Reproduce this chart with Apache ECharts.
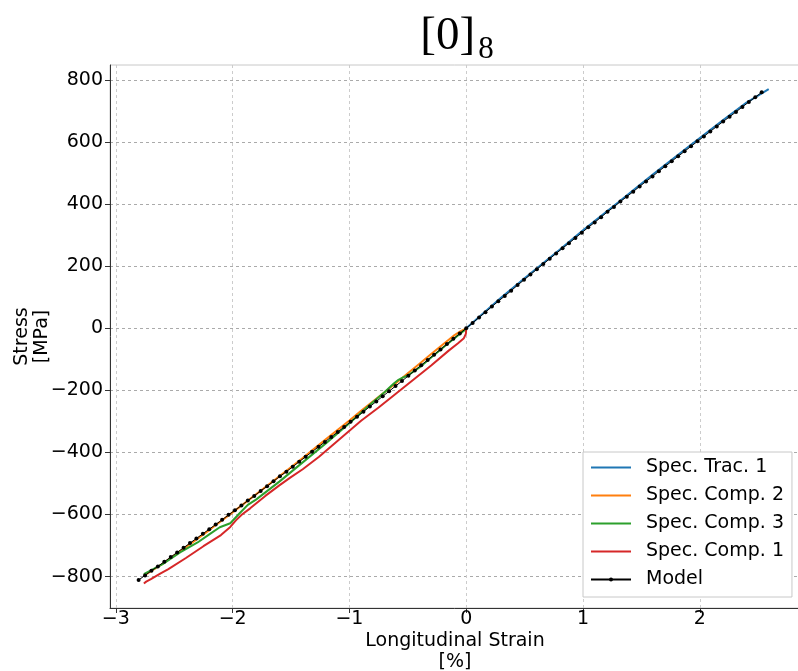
<!DOCTYPE html>
<html><head><meta charset="utf-8">
<script src="https://cdn.jsdelivr.net/npm/echarts@6/dist/echarts.min.js"></script>
<style>html,body{margin:0;padding:0;background:#fff}#c{width:798px;height:671px}</style>
</head><body><div id="c"></div>
<script>
const xTicks = [-3, -2, -1, 0, 1, 2];
const yTicks = [-800, -600, -400, -200, 0, 200, 400, 600, 800];
const seriesNames = ['Spec. Trac. 1', 'Spec. Comp. 2', 'Spec. Comp. 3', 'Spec. Comp. 1', 'Model'];
const seriesColors = ['#1f77b4', '#ff7f0e', '#2ca02c', '#d62728', '#000000'];

const tracStrain = [0, 0.1, 0.3, 0.5, 0.8, 1.0, 1.3, 1.6, 1.9, 2.2, 2.4, 2.59];
const tracStress = [0, 33, 99, 161, 253, 316, 405, 496, 584, 671, 727, 770];

const comp2Strain = [0, -0.05, -0.1, -0.2, -0.3, -0.4, -0.5, -0.6, -0.7, -0.8, -0.9, -1.0, -1.2, -1.4, -1.6, -1.8, -2.0, -2.2, -2.4, -2.6, -2.76];
const comp2Stress = [0, -10, -22, -52, -83, -114, -145, -176, -206, -236, -266, -297, -357, -418, -477, -535, -593, -650, -705, -759, -797];

const comp3Strain = [0, -0.1, -0.2, -0.3, -0.4, -0.5, -0.54, -0.58, -0.62, -0.7, -0.8, -1.0, -1.2, -1.4, -1.6, -1.8, -1.87, -1.94, -2.02, -2.11, -2.2, -2.3, -2.45, -2.6, -2.76];
const comp3Stress = [-2, -32, -63, -94, -126, -152, -158, -166, -178, -206, -238, -306, -370, -432, -494, -552, -569, -596, -628, -641, -664, -690, -722, -760, -792];

const comp1Strain = [0, -0.003, -0.02, -0.07, -0.15, -0.3, -0.45, -0.6, -0.75, -0.9, -1.0, -1.1, -1.26, -1.4, -1.51, -1.6, -1.72, -1.85, -1.92, -1.97, -2.02, -2.1, -2.25, -2.4, -2.55, -2.62, -2.7, -2.74, -2.76];
const comp1Stress = [-3, -18, -32, -48, -72, -120, -165, -210, -255, -298, -330, -362, -414, -454, -482, -506, -540, -580, -600, -618, -640, -666, -702, -740, -776, -790, -808, -816, -822];

const modelStrain = [-2.805,-2.75,-2.695,-2.64,-2.585,-2.53,-2.475,-2.42,-2.365,-2.31,-2.255,-2.2,-2.145,-2.09,-2.035,-1.98,-1.925,-1.87,-1.815,-1.76,-1.705,-1.65,-1.595,-1.54,-1.485,-1.43,-1.375,-1.32,-1.265,-1.21,-1.155,-1.1,-1.045,-0.99,-0.935,-0.88,-0.825,-0.77,-0.715,-0.66,-0.605,-0.55,-0.495,-0.44,-0.385,-0.33,-0.275,-0.22,-0.165,-0.11,-0.055,0,0.055,0.11,0.165,0.22,0.275,0.33,0.385,0.44,0.495,0.55,0.605,0.66,0.715,0.77,0.825,0.88,0.935,0.99,1.045,1.1,1.155,1.21,1.265,1.32,1.375,1.43,1.485,1.54,1.595,1.65,1.705,1.76,1.815,1.87,1.925,1.98,2.035,2.09,2.145,2.2,2.255,2.31,2.365,2.42,2.475,2.53];
const modelStress = [-811,-796,-781,-767,-752,-737,-722,-707,-692,-677,-662,-647,-632,-617,-601,-586,-571,-555,-540,-524,-509,-493,-477,-462,-446,-430,-414,-398,-382,-366,-350,-334,-318,-301,-285,-269,-252,-236,-219,-203,-186,-170,-153,-136,-119,-102,-85,-68,-51,-34,-17,0,17,35,52,70,87,104,121,139,156,173,190,207,224,241,258,274,291,308,325,341,358,375,391,408,424,440,457,473,489,506,522,538,554,570,586,602,618,634,650,666,681,697,713,729,744,760];

const zip = (xs, ys) => xs.map((x, i) => [x, ys[i]]);
const minus = v => String(v).replace('-', '\u2212');
const FONT = 'DejaVu Sans';

const chart = echarts.init(document.getElementById('c'), null, {renderer: 'canvas'});

function lineSeries(name, color, data, z) {
  return {
    name, type: 'line', data, showSymbol: false, symbol: 'none', smooth: false,
    lineStyle: {color, width: 2}, itemStyle: {color}, z, animation: false
  };
}

chart.setOption({
  animation: false,
  backgroundColor: '#ffffff',
  title: {
    text: '{a|[0]}{b|8}',
    left: 452, top: 8, textAlign: 'center',
    textStyle: {
      fontWeight: 'normal',
      rich: {
        a: {fontFamily: 'Liberation Serif', fontWeight: 'normal', fontSize: 47, lineHeight: 50, color: '#000', verticalAlign: 'top'},
        b: {fontFamily: 'Liberation Serif', fontWeight: 'normal', fontSize: 31, lineHeight: 31, color: '#000', verticalAlign: 'top', padding: [21, 0, 0, 3]}
      }
    }
  },
  grid: {left: 110, right: -2, top: 65, bottom: 63, containLabel: false, outerBoundsMode: 'none',
         show: true, borderColor: '#c8c8c8', borderWidth: 1, backgroundColor: 'transparent'},
  legend: {
    orient: 'vertical', left: 583, top: 452,
    padding: [6, 8, 8, 7], itemGap: 9, itemWidth: 40, itemHeight: 5,
    backgroundColor: '#ffffff', borderColor: '#c8c8c8', borderWidth: 1, borderRadius: 0,
    textStyle: {fontFamily: FONT, fontSize: 19, color: '#000', rich: {g: {width: 10}}},
    formatter: n => '{g|}' + n,
    data: seriesNames.map((n, i) => ({name: n, itemStyle: {opacity: i === 4 ? 1 : 0}}))
  },
  xAxis: {
    type: 'value', min: -3.05, max: 2.858,
    axisLine: {show: true, onZero: false, lineStyle: {color: '#333', width: 1}},
    axisTick: {show: true, inside: false, length: 5, customValues: xTicks, lineStyle: {color: '#333'}},
    axisLabel: {customValues: xTicks, formatter: minus, color: '#000', fontSize: 19, fontFamily: FONT, margin: 2},
    splitLine: {show: true, lineStyle: {color: '#cccccc', type: [3, 3], width: 1}},
    name: 'Longitudinal Strain\n[%]', nameLocation: 'middle', nameGap: 23, nameMoveOverlap: false,
    nameTextStyle: {fontFamily: FONT, fontSize: 19, color: '#000', lineHeight: 21}
  },
  yAxis: {
    type: 'value', min: -901, max: 848,
    axisLine: {show: true, onZero: false, lineStyle: {color: '#333', width: 1}},
    axisTick: {show: true, inside: false, length: 5, customValues: yTicks, lineStyle: {color: '#333'}},
    axisLabel: {customValues: yTicks, formatter: minus, color: '#000', fontSize: 19, fontFamily: FONT, margin: 7},
    splitLine: {show: true, lineStyle: {color: '#aaaaaa', type: [3, 3], width: 1}},
    name: 'Stress\n[MPa]', nameLocation: 'middle', nameGap: 58, nameMoveOverlap: false,
    nameTextStyle: {fontFamily: FONT, fontSize: 19, color: '#000', lineHeight: 20}
  },
  series: [
    lineSeries(seriesNames[0], seriesColors[0], zip(tracStrain, tracStress), 2),
    lineSeries(seriesNames[1], seriesColors[1], zip(comp2Strain, comp2Stress), 3),
    lineSeries(seriesNames[2], seriesColors[2], zip(comp3Strain, comp3Stress), 4),
    lineSeries(seriesNames[3], seriesColors[3], zip(comp1Strain, comp1Stress), 5),
    {
      name: seriesNames[4], type: 'line', data: zip(modelStrain, modelStress),
      symbol: 'circle', symbolSize: 4, showSymbol: true,
      lineStyle: {color: '#000', width: 1}, itemStyle: {color: '#000'}, z: 6, animation: false
    }
  ]
});
</script></body></html>
